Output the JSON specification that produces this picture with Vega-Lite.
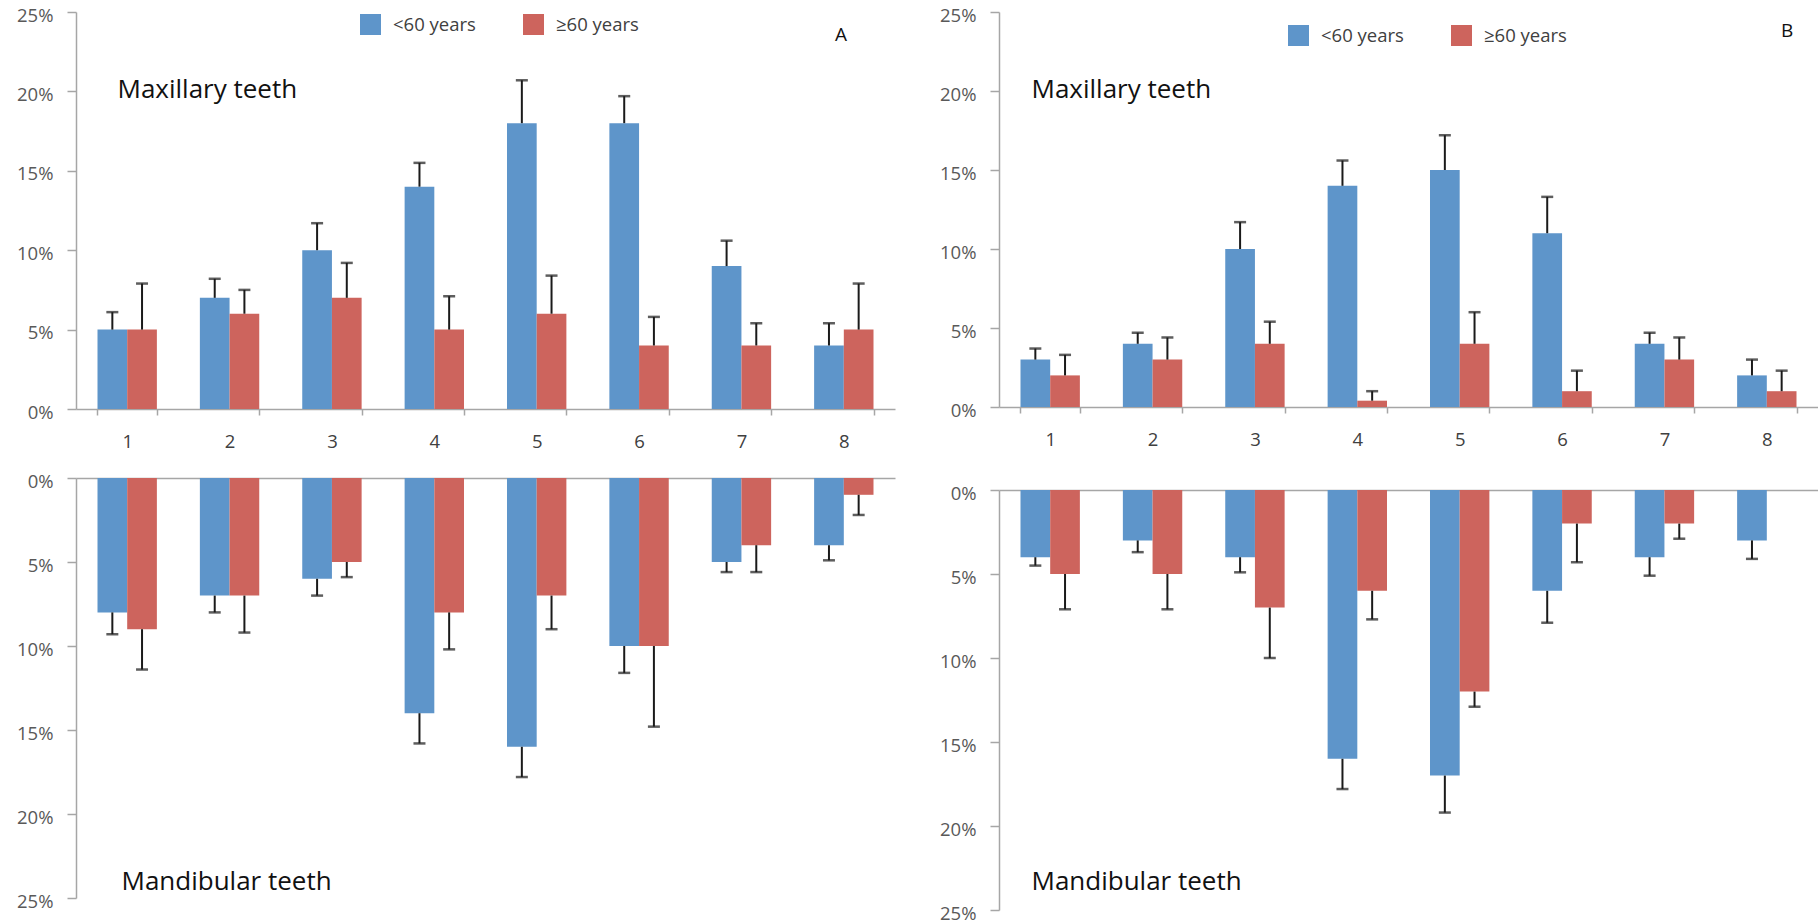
{
  "$schema": "https://vega.github.io/schema/vega-lite/v6.json",
  "padding": {"left": 16, "top": 6, "right": 0, "bottom": 0},
  "background": "white",
  "datasets": {
    "teeth": [
      {"panel": "A", "jaw": "Maxillary", "tooth": "1", "group": "<60 years", "value": 0.05, "upper": 0.061},
      {"panel": "A", "jaw": "Maxillary", "tooth": "1", "group": "≥60 years", "value": 0.05, "upper": 0.079},
      {"panel": "A", "jaw": "Maxillary", "tooth": "2", "group": "<60 years", "value": 0.07, "upper": 0.082},
      {"panel": "A", "jaw": "Maxillary", "tooth": "2", "group": "≥60 years", "value": 0.06, "upper": 0.075},
      {"panel": "A", "jaw": "Maxillary", "tooth": "3", "group": "<60 years", "value": 0.10, "upper": 0.117},
      {"panel": "A", "jaw": "Maxillary", "tooth": "3", "group": "≥60 years", "value": 0.07, "upper": 0.092},
      {"panel": "A", "jaw": "Maxillary", "tooth": "4", "group": "<60 years", "value": 0.14, "upper": 0.155},
      {"panel": "A", "jaw": "Maxillary", "tooth": "4", "group": "≥60 years", "value": 0.05, "upper": 0.071},
      {"panel": "A", "jaw": "Maxillary", "tooth": "5", "group": "<60 years", "value": 0.18, "upper": 0.207},
      {"panel": "A", "jaw": "Maxillary", "tooth": "5", "group": "≥60 years", "value": 0.06, "upper": 0.084},
      {"panel": "A", "jaw": "Maxillary", "tooth": "6", "group": "<60 years", "value": 0.18, "upper": 0.197},
      {"panel": "A", "jaw": "Maxillary", "tooth": "6", "group": "≥60 years", "value": 0.04, "upper": 0.058},
      {"panel": "A", "jaw": "Maxillary", "tooth": "7", "group": "<60 years", "value": 0.09, "upper": 0.106},
      {"panel": "A", "jaw": "Maxillary", "tooth": "7", "group": "≥60 years", "value": 0.04, "upper": 0.054},
      {"panel": "A", "jaw": "Maxillary", "tooth": "8", "group": "<60 years", "value": 0.04, "upper": 0.054},
      {"panel": "A", "jaw": "Maxillary", "tooth": "8", "group": "≥60 years", "value": 0.05, "upper": 0.079},

      {"panel": "A", "jaw": "Mandibular", "tooth": "1", "group": "<60 years", "value": 0.08, "upper": 0.093},
      {"panel": "A", "jaw": "Mandibular", "tooth": "1", "group": "≥60 years", "value": 0.09, "upper": 0.114},
      {"panel": "A", "jaw": "Mandibular", "tooth": "2", "group": "<60 years", "value": 0.07, "upper": 0.080},
      {"panel": "A", "jaw": "Mandibular", "tooth": "2", "group": "≥60 years", "value": 0.07, "upper": 0.092},
      {"panel": "A", "jaw": "Mandibular", "tooth": "3", "group": "<60 years", "value": 0.06, "upper": 0.070},
      {"panel": "A", "jaw": "Mandibular", "tooth": "3", "group": "≥60 years", "value": 0.05, "upper": 0.059},
      {"panel": "A", "jaw": "Mandibular", "tooth": "4", "group": "<60 years", "value": 0.14, "upper": 0.158},
      {"panel": "A", "jaw": "Mandibular", "tooth": "4", "group": "≥60 years", "value": 0.08, "upper": 0.102},
      {"panel": "A", "jaw": "Mandibular", "tooth": "5", "group": "<60 years", "value": 0.16, "upper": 0.178},
      {"panel": "A", "jaw": "Mandibular", "tooth": "5", "group": "≥60 years", "value": 0.07, "upper": 0.090},
      {"panel": "A", "jaw": "Mandibular", "tooth": "6", "group": "<60 years", "value": 0.10, "upper": 0.116},
      {"panel": "A", "jaw": "Mandibular", "tooth": "6", "group": "≥60 years", "value": 0.10, "upper": 0.148},
      {"panel": "A", "jaw": "Mandibular", "tooth": "7", "group": "<60 years", "value": 0.05, "upper": 0.056},
      {"panel": "A", "jaw": "Mandibular", "tooth": "7", "group": "≥60 years", "value": 0.04, "upper": 0.056},
      {"panel": "A", "jaw": "Mandibular", "tooth": "8", "group": "<60 years", "value": 0.04, "upper": 0.049},
      {"panel": "A", "jaw": "Mandibular", "tooth": "8", "group": "≥60 years", "value": 0.01, "upper": 0.022},

      {"panel": "B", "jaw": "Maxillary", "tooth": "1", "group": "<60 years", "value": 0.03, "upper": 0.037},
      {"panel": "B", "jaw": "Maxillary", "tooth": "1", "group": "≥60 years", "value": 0.02, "upper": 0.033},
      {"panel": "B", "jaw": "Maxillary", "tooth": "2", "group": "<60 years", "value": 0.04, "upper": 0.047},
      {"panel": "B", "jaw": "Maxillary", "tooth": "2", "group": "≥60 years", "value": 0.03, "upper": 0.044},
      {"panel": "B", "jaw": "Maxillary", "tooth": "3", "group": "<60 years", "value": 0.10, "upper": 0.117},
      {"panel": "B", "jaw": "Maxillary", "tooth": "3", "group": "≥60 years", "value": 0.04, "upper": 0.054},
      {"panel": "B", "jaw": "Maxillary", "tooth": "4", "group": "<60 years", "value": 0.14, "upper": 0.156},
      {"panel": "B", "jaw": "Maxillary", "tooth": "4", "group": "≥60 years", "value": 0.004, "upper": 0.010},
      {"panel": "B", "jaw": "Maxillary", "tooth": "5", "group": "<60 years", "value": 0.15, "upper": 0.172},
      {"panel": "B", "jaw": "Maxillary", "tooth": "5", "group": "≥60 years", "value": 0.04, "upper": 0.060},
      {"panel": "B", "jaw": "Maxillary", "tooth": "6", "group": "<60 years", "value": 0.11, "upper": 0.133},
      {"panel": "B", "jaw": "Maxillary", "tooth": "6", "group": "≥60 years", "value": 0.01, "upper": 0.023},
      {"panel": "B", "jaw": "Maxillary", "tooth": "7", "group": "<60 years", "value": 0.04, "upper": 0.047},
      {"panel": "B", "jaw": "Maxillary", "tooth": "7", "group": "≥60 years", "value": 0.03, "upper": 0.044},
      {"panel": "B", "jaw": "Maxillary", "tooth": "8", "group": "<60 years", "value": 0.02, "upper": 0.030},
      {"panel": "B", "jaw": "Maxillary", "tooth": "8", "group": "≥60 years", "value": 0.01, "upper": 0.023},

      {"panel": "B", "jaw": "Mandibular", "tooth": "1", "group": "<60 years", "value": 0.04, "upper": 0.045},
      {"panel": "B", "jaw": "Mandibular", "tooth": "1", "group": "≥60 years", "value": 0.05, "upper": 0.071},
      {"panel": "B", "jaw": "Mandibular", "tooth": "2", "group": "<60 years", "value": 0.03, "upper": 0.037},
      {"panel": "B", "jaw": "Mandibular", "tooth": "2", "group": "≥60 years", "value": 0.05, "upper": 0.071},
      {"panel": "B", "jaw": "Mandibular", "tooth": "3", "group": "<60 years", "value": 0.04, "upper": 0.049},
      {"panel": "B", "jaw": "Mandibular", "tooth": "3", "group": "≥60 years", "value": 0.07, "upper": 0.100},
      {"panel": "B", "jaw": "Mandibular", "tooth": "4", "group": "<60 years", "value": 0.16, "upper": 0.178},
      {"panel": "B", "jaw": "Mandibular", "tooth": "4", "group": "≥60 years", "value": 0.06, "upper": 0.077},
      {"panel": "B", "jaw": "Mandibular", "tooth": "5", "group": "<60 years", "value": 0.17, "upper": 0.192},
      {"panel": "B", "jaw": "Mandibular", "tooth": "5", "group": "≥60 years", "value": 0.12, "upper": 0.129},
      {"panel": "B", "jaw": "Mandibular", "tooth": "6", "group": "<60 years", "value": 0.06, "upper": 0.079},
      {"panel": "B", "jaw": "Mandibular", "tooth": "6", "group": "≥60 years", "value": 0.02, "upper": 0.043},
      {"panel": "B", "jaw": "Mandibular", "tooth": "7", "group": "<60 years", "value": 0.04, "upper": 0.051},
      {"panel": "B", "jaw": "Mandibular", "tooth": "7", "group": "≥60 years", "value": 0.02, "upper": 0.029},
      {"panel": "B", "jaw": "Mandibular", "tooth": "8", "group": "<60 years", "value": 0.03, "upper": 0.041},
      {"panel": "B", "jaw": "Mandibular", "tooth": "8", "group": "≥60 years", "value": 0.0, "upper": null}
    ]
  },
  "resolve": {"scale": {"color": "independent"}, "legend": {"color": "independent"}},
  "spacing": 44,
  "hconcat": [
    {
      "spacing": 21,
      "resolve": {"scale": {"color": "independent", "y": "independent", "x": "independent"}, "legend": {"color": "independent"}},
      "vconcat": [
        {
          "width": 819, "height": 397,
          "data": {"name": "teeth"},
          "transform": [{"filter": "datum.panel === 'A' && datum.jaw === 'Maxillary'"}],
          "encoding": {
            "x": {"field": "tooth", "type": "nominal", "scale": {"paddingInner": 0.42, "paddingOuter": 0.21},
                  "axis": {"tickBand": "extent", "tickSize": 6, "labelPadding": 17, "labelAngle": 0, "labelColor": "#404040", "title": null}},
            "xOffset": {"field": "group", "type": "nominal", "scale": {"domain": ["<60 years", "≥60 years"], "paddingInner": 0, "paddingOuter": 0}}
          },
          "layer": [
            {"mark": {"type": "bar"},
             "encoding": {
               "y": {"field": "value", "type": "quantitative", "scale": {"domain": [0, 0.25], "nice": false},
                     "axis": {"values": [0, 0.05, 0.1, 0.15, 0.2, 0.25], "format": ".0%", "tickSize": 9, "labelPadding": 14, "labelOffset": 3, "title": null}},
               "color": {"field": "group", "type": "nominal",
                         "scale": {"domain": ["<60 years", "≥60 years"], "range": ["#5E95CA", "#CD645D"]},
                         "legend": {"orient": "none", "legendX": 284, "legendY": 2, "direction": "horizontal", "title": null, "symbolType": "square", "symbolSize": 441, "symbolStrokeWidth": 0, "labelOffset": 12, "columnPadding": 47, "labelFontSize": 18.5, "labelFont": "Open Sans", "labelColor": "#404040", "padding": 0}}
             }},
            {"transform": [{"filter": "isValid(datum.upper)"}],
             "mark": {"type": "rule", "color": "#1a1a1a", "strokeWidth": 2},
             "encoding": {"y": {"field": "value", "type": "quantitative"}, "y2": {"field": "upper"}}},
            {"transform": [{"filter": "isValid(datum.upper)"}],
             "mark": {"type": "tick", "orient": "horizontal", "color": "#1a1a1a", "size": 12, "thickness": 2.5},
             "encoding": {"y": {"field": "upper", "type": "quantitative"}}},
            {"data": {"values": [{"label": "Maxillary teeth", "tooth": "1", "pos": 0.1958}]},
             "mark": {"type": "text", "align": "left", "baseline": "alphabetic", "dx": 20, "font": "Open Sans", "fontSize": 26, "color": "#111111"},
             "encoding": {"xOffset": {"value": 0}, "y": {"field": "pos", "type": "quantitative"}, "text": {"field": "label"}}},
            {"data": {"values": [{"label": "A", "tooth": "8", "pos": 0.2355}]},
             "mark": {"type": "text", "align": "center", "baseline": "middle", "dx": 27, "font": "Open Sans", "fontSize": 19, "color": "#111111"},
             "encoding": {"xOffset": {"value": 0}, "y": {"field": "pos", "type": "quantitative"}, "text": {"field": "label"}}}
          ]
        },
        {
          "width": 819, "height": 420,
          "data": {"name": "teeth"},
          "transform": [{"filter": "datum.panel === 'A' && datum.jaw === 'Mandibular'"}],
          "encoding": {
            "x": {"field": "tooth", "type": "nominal", "scale": {"paddingInner": 0.42, "paddingOuter": 0.21},
                  "axis": {"orient": "top", "labels": false, "ticks": false, "title": null}},
            "xOffset": {"field": "group", "type": "nominal", "scale": {"domain": ["<60 years", "≥60 years"], "paddingInner": 0, "paddingOuter": 0}}
          },
          "layer": [
            {"mark": {"type": "bar"},
             "encoding": {
               "y": {"field": "value", "type": "quantitative", "scale": {"domain": [0, 0.25], "nice": false, "reverse": true},
                     "axis": {"values": [0, 0.05, 0.1, 0.15, 0.2, 0.25], "format": ".0%", "tickSize": 9, "labelPadding": 14, "labelOffset": 3, "title": null}},
               "color": {"field": "group", "type": "nominal",
                         "scale": {"domain": ["<60 years", "≥60 years"], "range": ["#5E95CA", "#CD645D"]}, "legend": null}
             }},
            {"transform": [{"filter": "isValid(datum.upper)"}],
             "mark": {"type": "rule", "color": "#1a1a1a", "strokeWidth": 2},
             "encoding": {"y": {"field": "value", "type": "quantitative"}, "y2": {"field": "upper"}}},
            {"transform": [{"filter": "isValid(datum.upper)"}],
             "mark": {"type": "tick", "orient": "horizontal", "color": "#1a1a1a", "size": 12, "thickness": 2.5},
             "encoding": {"y": {"field": "upper", "type": "quantitative"}}},
            {"data": {"values": [{"label": "Mandibular teeth", "tooth": "1", "pos": 0.2452}]},
             "mark": {"type": "text", "align": "left", "baseline": "alphabetic", "dx": 24, "font": "Open Sans", "fontSize": 26, "color": "#111111"},
             "encoding": {"xOffset": {"value": 0}, "y": {"field": "pos", "type": "quantitative"}, "text": {"field": "label"}}}
          ]
        }
      ]
    },
    {
      "spacing": 35,
      "resolve": {"scale": {"color": "independent", "y": "independent", "x": "independent"}, "legend": {"color": "independent"}},
      "vconcat": [
        {
          "width": 819, "height": 395,
          "data": {"name": "teeth"},
          "transform": [{"filter": "datum.panel === 'B' && datum.jaw === 'Maxillary'"}],
          "encoding": {
            "x": {"field": "tooth", "type": "nominal", "scale": {"paddingInner": 0.42, "paddingOuter": 0.21},
                  "axis": {"tickBand": "extent", "tickSize": 6, "labelPadding": 17, "labelAngle": 0, "labelColor": "#404040", "title": null}},
            "xOffset": {"field": "group", "type": "nominal", "scale": {"domain": ["<60 years", "≥60 years"], "paddingInner": 0, "paddingOuter": 0}}
          },
          "layer": [
            {"mark": {"type": "bar"},
             "encoding": {
               "y": {"field": "value", "type": "quantitative", "scale": {"domain": [0, 0.25], "nice": false},
                     "axis": {"values": [0, 0.05, 0.1, 0.15, 0.2, 0.25], "format": ".0%", "tickSize": 9, "labelPadding": 14, "labelOffset": 3, "title": null}},
               "color": {"field": "group", "type": "nominal",
                         "scale": {"domain": ["<60 years", "≥60 years"], "range": ["#5E95CA", "#CD645D"]},
                         "legend": {"orient": "none", "legendX": 289, "legendY": 13, "direction": "horizontal", "title": null, "symbolType": "square", "symbolSize": 441, "symbolStrokeWidth": 0, "labelOffset": 12, "columnPadding": 47, "labelFontSize": 18.5, "labelFont": "Open Sans", "labelColor": "#404040", "padding": 0}}
             }},
            {"transform": [{"filter": "isValid(datum.upper)"}],
             "mark": {"type": "rule", "color": "#1a1a1a", "strokeWidth": 2},
             "encoding": {"y": {"field": "value", "type": "quantitative"}, "y2": {"field": "upper"}}},
            {"transform": [{"filter": "isValid(datum.upper)"}],
             "mark": {"type": "tick", "orient": "horizontal", "color": "#1a1a1a", "size": 12, "thickness": 2.5},
             "encoding": {"y": {"field": "upper", "type": "quantitative"}}},
            {"data": {"values": [{"label": "Maxillary teeth", "tooth": "1", "pos": 0.1956}]},
             "mark": {"type": "text", "align": "left", "baseline": "alphabetic", "dx": 11, "font": "Open Sans", "fontSize": 26, "color": "#111111"},
             "encoding": {"xOffset": {"value": 0}, "y": {"field": "pos", "type": "quantitative"}, "text": {"field": "label"}}},
            {"data": {"values": [{"label": "B", "tooth": "8", "pos": 0.238}]},
             "mark": {"type": "text", "align": "center", "baseline": "middle", "dx": 50, "font": "Open Sans", "fontSize": 19, "color": "#111111"},
             "encoding": {"xOffset": {"value": 0}, "y": {"field": "pos", "type": "quantitative"}, "text": {"field": "label"}}}
          ]
        },
        {
          "width": 819, "height": 420,
          "data": {"name": "teeth"},
          "transform": [{"filter": "datum.panel === 'B' && datum.jaw === 'Mandibular'"}],
          "encoding": {
            "x": {"field": "tooth", "type": "nominal", "scale": {"paddingInner": 0.42, "paddingOuter": 0.21},
                  "axis": {"orient": "top", "labels": false, "ticks": false, "title": null}},
            "xOffset": {"field": "group", "type": "nominal", "scale": {"domain": ["<60 years", "≥60 years"], "paddingInner": 0, "paddingOuter": 0}}
          },
          "layer": [
            {"mark": {"type": "bar"},
             "encoding": {
               "y": {"field": "value", "type": "quantitative", "scale": {"domain": [0, 0.25], "nice": false, "reverse": true},
                     "axis": {"values": [0, 0.05, 0.1, 0.15, 0.2, 0.25], "format": ".0%", "tickSize": 9, "labelPadding": 14, "labelOffset": 3, "title": null}},
               "color": {"field": "group", "type": "nominal",
                         "scale": {"domain": ["<60 years", "≥60 years"], "range": ["#5E95CA", "#CD645D"]}, "legend": null}
             }},
            {"transform": [{"filter": "isValid(datum.upper)"}],
             "mark": {"type": "rule", "color": "#1a1a1a", "strokeWidth": 2},
             "encoding": {"y": {"field": "value", "type": "quantitative"}, "y2": {"field": "upper"}}},
            {"transform": [{"filter": "isValid(datum.upper)"}],
             "mark": {"type": "tick", "orient": "horizontal", "color": "#1a1a1a", "size": 12, "thickness": 2.5},
             "encoding": {"y": {"field": "upper", "type": "quantitative"}}},
            {"data": {"values": [{"label": "Mandibular teeth", "tooth": "1", "pos": 0.238}]},
             "mark": {"type": "text", "align": "left", "baseline": "alphabetic", "dx": 11, "font": "Open Sans", "fontSize": 26, "color": "#111111"},
             "encoding": {"xOffset": {"value": 0}, "y": {"field": "pos", "type": "quantitative"}, "text": {"field": "label"}}}
          ]
        }
      ]
    }
  ],
  "config": {
    "view": {"stroke": null},
    "axis": {"domainColor": "#A6A6A6", "domainWidth": 1.5, "tickColor": "#A6A6A6", "tickWidth": 1.5, "labelFont": "Open Sans", "labelFontSize": 18.5, "labelColor": "#595959", "grid": false}
  }
}
